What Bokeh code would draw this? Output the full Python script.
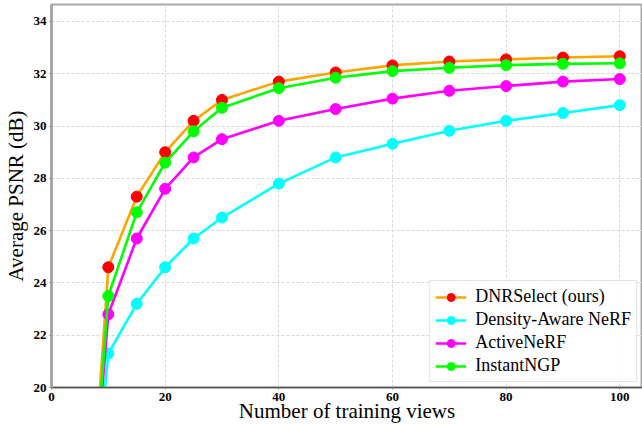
from bokeh.plotting import figure
from bokeh.models import Range1d, FixedTicker, Legend, LegendItem
from bokeh.embed import file_html
from bokeh.resources import INLINE

# ---- data ----
views = [5, 10, 15, 20, 25, 30, 40, 50, 60, 70, 80, 90, 100]
dnrselect = [8.9, 24.6, 27.3, 29.0, 30.2, 31.0, 31.7, 32.05, 32.32, 32.47, 32.55, 32.62, 32.67]
density_aware = [10.1, 21.3, 23.2, 24.6, 25.7, 26.5, 27.8, 28.8, 29.32, 29.82, 30.2, 30.5, 30.8]
active_nerf = [9.5, 22.8, 25.7, 27.6, 28.8, 29.5, 30.2, 30.65, 31.05, 31.35, 31.53, 31.7, 31.8]
instant_ngp = [9.3, 23.5, 26.7, 28.6, 29.8, 30.7, 31.45, 31.85, 32.1, 32.23, 32.33, 32.38, 32.4]

series_names = ["DNRSelect (ours)", "Density-Aware NeRF", "ActiveNeRF", "InstantNGP"]
series_values = [dnrselect, density_aware, active_nerf, instant_ngp]
line_colors = ["#FFA500", "#00FFFF", "#FF00FF", "#00FF00"]
marker_colors = ["#FF0000", "#00FFFF", "#FF00FF", "#00FF00"]

x_ticks = [0, 20, 40, 60, 80, 100]
y_ticks = [20, 22, 24, 26, 28, 30, 32, 34]
x_title = "Number of training views"
y_title = "Average PSNR (dB)"

SERIF = "Liberation Serif"

p = figure(width=642, height=425, output_backend="svg", toolbar_location=None,
           x_range=Range1d(0, 104.0), y_range=Range1d(20, 34.65),
           min_border_left=49, min_border_right=0, min_border_top=4, min_border_bottom=38)

p.background_fill_color = "white"
p.border_fill_color = "white"
p.outline_line_color = "#a8a8a8"
p.outline_line_width = 2

for ax in (p.xaxis[0], p.yaxis[0]):
    ax.major_label_text_font = SERIF
    ax.major_label_text_font_style = "bold"
    ax.major_label_text_font_size = "13px"
    ax.major_label_text_color = "black"
    ax.major_tick_out = 2
    ax.major_tick_in = 0
    ax.major_tick_line_color = "#888888"
    ax.minor_tick_line_color = None
    ax.major_label_standoff = 3
    ax.axis_label_text_font = SERIF
    ax.axis_label_text_font_style = "normal"
    ax.axis_label_text_color = "black"

p.xaxis[0].ticker = FixedTicker(ticks=x_ticks)
p.yaxis[0].ticker = FixedTicker(ticks=y_ticks)
p.xaxis[0].axis_line_color = "#555555"
p.xaxis[0].axis_line_width = 1.5
p.yaxis[0].axis_line_color = "#a8a8a8"
p.yaxis[0].axis_line_width = 3

p.xaxis[0].axis_label = x_title
p.xaxis[0].axis_label_text_font_size = "21px"
p.xaxis[0].axis_label_standoff = -5
p.yaxis[0].axis_label = y_title
p.yaxis[0].axis_label_text_font_size = "21px"
p.yaxis[0].axis_label_standoff = 3

p.xgrid.ticker = FixedTicker(ticks=x_ticks)
p.ygrid.ticker = FixedTicker(ticks=y_ticks)
for g in (p.xgrid[0], p.ygrid[0]):
    g.grid_line_color = "#d8d8d8"
    g.grid_line_dash = "3 2"
    g.grid_line_width = 1

items = []
for name, vals, lc, mc in zip(series_names, series_values, line_colors, marker_colors):
    lr = p.line(views, vals, line_color=lc, line_width=2.6)
    sr = p.scatter(views, vals, size=11, fill_color=mc, line_color=mc, marker="circle")
    items.append(LegendItem(label=name, renderers=[lr, sr]))

legend = Legend(items=items, location="bottom_right")
legend.label_text_font = SERIF
legend.label_text_font_size = "18px"
legend.label_text_color = "black"
legend.glyph_width = 31
legend.glyph_height = 20
legend.label_height = 20
legend.label_standoff = 9
legend.spacing = 2
legend.padding = 5
legend.margin = 5
legend.border_line_color = "#cccccc"
legend.border_line_width = 1
legend.background_fill_alpha = 0.9
p.add_layout(legend)

open("out.html", "w").write(file_html(p, INLINE))
